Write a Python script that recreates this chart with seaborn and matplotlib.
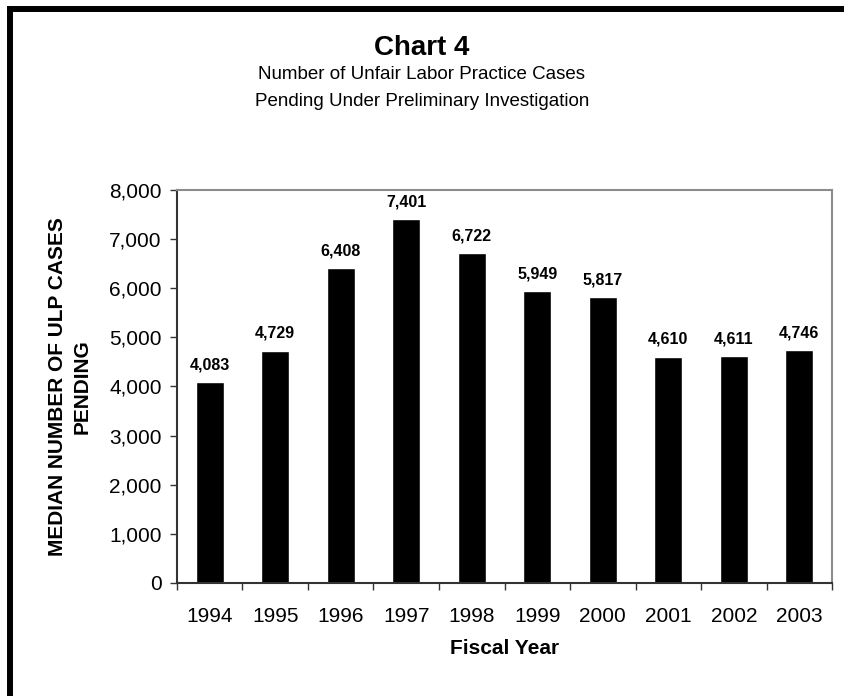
import matplotlib
matplotlib.use("Agg")
import matplotlib.pyplot as plt
import pandas as pd
import seaborn as sns
from matplotlib.patches import Rectangle
from matplotlib.ticker import FuncFormatter, FixedLocator

# Chart data
years = ["1994", "1995", "1996", "1997", "1998", "1999", "2000", "2001", "2002", "2003"]
cases = [4083, 4729, 6408, 7401, 6722, 5949, 5817, 4610, 4611, 4746]

df = pd.DataFrame({"year": years, "cases": cases})

sns.set_style("white")
plt.rcParams["font.family"] = ["Liberation Sans", "DejaVu Sans"]
plt.rcParams["text.color"] = "black"
plt.rcParams["axes.labelcolor"] = "black"
plt.rcParams["xtick.color"] = "black"
plt.rcParams["ytick.color"] = "black"

fig = plt.figure(figsize=(8.44, 6.96), dpi=100)
ax = fig.add_axes([0.2097, 0.1624, 0.7761, 0.5646])

sns.barplot(data=df, x="year", y="cases", color="black", width=0.43,
            saturation=1, ax=ax)

# value labels above bars
for i, v in enumerate(df["cases"]):
    ax.annotate(f"{v:,}", (i, v), xytext=(0, 7), textcoords="offset points",
                ha="center", va="bottom", fontsize=11.5, fontweight="bold")

ax.set_ylim(0, 8000)
ax.set_xlim(-0.5, len(years) - 0.5)
ax.yaxis.set_major_formatter(FuncFormatter(lambda v, p: f"{int(v):,}"))
ax.set_yticks(range(0, 8001, 1000))

# ticks between the categories, labels centred under the bars
ax.xaxis.set_major_locator(FixedLocator([i - 0.5 for i in range(len(years) + 1)]))
ax.xaxis.set_major_formatter(FuncFormatter(lambda v, p: ""))
ax.xaxis.set_minor_locator(FixedLocator(list(range(len(years)))))
ax.set_xticklabels(years, minor=True)
ax.tick_params(axis="x", which="major", bottom=True, direction="out", length=5,
               width=1, color="#333333")
ax.tick_params(axis="x", which="minor", bottom=True, length=0, pad=17, labelsize=15)
ax.tick_params(axis="y", left=True, direction="out", length=5, width=1,
               color="#333333", labelsize=15, pad=6)

for side in ["left", "bottom"]:
    ax.spines[side].set_color("#333333")
    ax.spines[side].set_linewidth(1.5)
for side in ["top", "right"]:
    ax.spines[side].set_color("#8c8c8c")
    ax.spines[side].set_linewidth(1.5)

ax.set_xlabel("Fiscal Year", fontsize=15, fontweight="bold")
ax.xaxis.set_label_coords(0.5, -0.143)
ax.set_ylabel("MEDIAN NUMBER OF ULP CASES\nPENDING", fontsize=15,
              fontweight="bold", linespacing=1.4)
ax.yaxis.set_label_coords(-0.13, 0.5)

fig.text(0.5, 0.931, "Chart 4", ha="center", va="center", fontsize=20, fontweight="bold")
fig.text(0.5, 0.893, "Number of Unfair Labor Practice Cases", ha="center",
         va="center", fontsize=13.5)
fig.text(0.5, 0.854, "Pending Under Preliminary Investigation", ha="center",
         va="center", fontsize=13.5)

# outer frame (cut off on right and bottom in the original)
fig.patches.append(Rectangle((10 / 844, -0.05), 1.2, 1.05 - 9 / 696,
                             transform=fig.transFigure, fill=False,
                             edgecolor="black", linewidth=4.3, clip_on=False))

fig.savefig("out.png", dpi=100)
